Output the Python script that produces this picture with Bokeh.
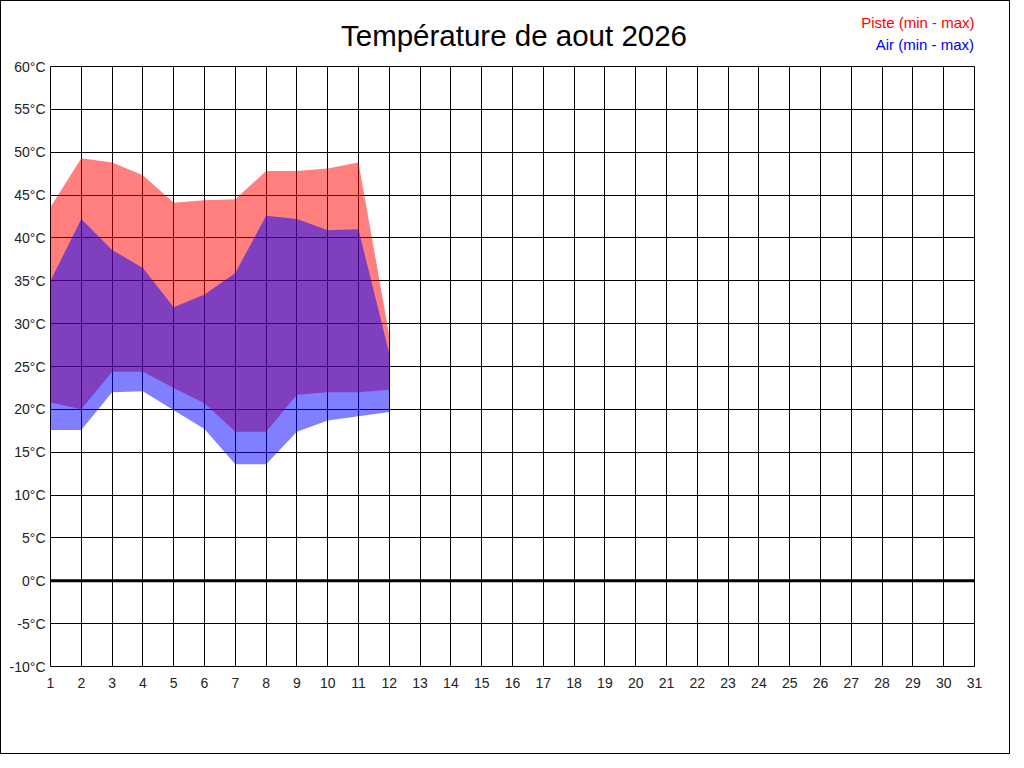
from bokeh.plotting import figure
from bokeh.layouts import column
from bokeh.models import Range1d, FixedTicker, Span, ColumnDataSource
from bokeh.core.properties import value
from bokeh.embed import file_html
from bokeh.resources import INLINE

# Data (°C), days of August 2026
days = [1, 2, 3, 4, 5, 6, 7, 8, 9, 10, 11, 12]
piste_max = [43.6, 49.3, 48.8, 47.3, 44.1, 44.4, 44.5, 47.8, 47.8, 48.1, 48.8, 28.6]
piste_min = [20.8, 20.0, 24.4, 24.4, 22.5, 20.7, 17.4, 17.4, 21.7, 22.0, 22.0, 22.3]
air_max = [35.0, 42.2, 38.6, 36.5, 31.9, 33.4, 35.9, 42.6, 42.2, 40.9, 41.0, 26.5]
air_min = [17.6, 17.6, 22.0, 22.1, 19.9, 17.7, 13.6, 13.6, 17.4, 18.7, 19.2, 19.7]

x_ticks = list(range(1, 32))
y_ticks = list(range(-10, 61, 5))
title_text = "Température de aout 2026"
legend_piste = "Piste (min - max)"
legend_air = "Air (min - max)"

FONT = "Liberation Sans"
W = 1008
HEADER_H = 55

# ---- header (title + legend); its frame is aligned with the chart frame (page x 50..974) ----
h = figure(width=W, height=HEADER_H, output_backend="svg", toolbar_location=None,
           x_range=Range1d(50, 974), y_range=Range1d(HEADER_H + 1, 1),
           min_border=0, min_border_left=0, min_border_right=0,
           min_border_top=0, min_border_bottom=0)
h.axis.visible = False
h.grid.visible = False
h.outline_line_color = None
h.background_fill_color = "white"
h.border_fill_color = "white"
h.text(x=[513.5], y=[35], text=[title_text], text_align="center", text_baseline="middle",
       text_font=value(FONT), text_font_size="29.5px", text_color="black")
h.text(x=[974], y=[22], text=[legend_piste], text_align="right", text_baseline="middle",
       text_font=value(FONT), text_font_size="15px", text_color="#FF0000")
h.text(x=[973.5], y=[44], text=[legend_air], text_align="right", text_baseline="middle",
       text_font=value(FONT), text_font_size="15px", text_color="#0000FF")

# ---- main chart ----
src = ColumnDataSource(dict(x=days, pmin=piste_min, pmax=piste_max, amin=air_min, amax=air_max))

p = figure(width=W, height=697, output_backend="svg", toolbar_location=None,
           x_range=Range1d(1, 31), y_range=Range1d(-10, 60),
           min_border_left=49, min_border_right=35, min_border_top=10, min_border_bottom=87)

p.varea(x="x", y1="pmin", y2="pmax", source=src, fill_color="#FF0000", fill_alpha=0.5)
p.varea(x="x", y1="amin", y2="amax", source=src, fill_color="#0000FF", fill_alpha=0.5)

p.add_layout(Span(location=0, dimension="width", line_color="black", line_width=3))

p.outline_line_color = "black"
p.outline_line_width = 1
p.background_fill_color = "white"
p.border_fill_color = "white"

p.xaxis.ticker = FixedTicker(ticks=x_ticks)
p.yaxis.ticker = FixedTicker(ticks=y_ticks)
p.yaxis.major_label_overrides = {t: f"{t}°C" for t in y_ticks}
for ax in (p.xaxis, p.yaxis):
    ax.axis_line_color = None
    ax.major_tick_line_color = None
    ax.minor_tick_line_color = None
    ax.major_tick_out = 0
    ax.major_tick_in = 0
    ax.minor_tick_out = 0
    ax.minor_tick_in = 0
    ax.major_label_text_font = FONT
    ax.major_label_text_font_size = "14px"
    ax.major_label_text_color = "#222222"
p.xaxis.major_label_standoff = 11
p.yaxis.major_label_standoff = 5

p.xgrid.ticker = FixedTicker(ticks=x_ticks)
p.ygrid.ticker = FixedTicker(ticks=y_ticks)
for g in (p.xgrid, p.ygrid):
    g.grid_line_color = "black"
    g.grid_line_width = 1
    g.grid_line_alpha = 1.0

layout = column(h, p, spacing=0)
layout.styles = {"border": "1px solid black", "background-color": "white"}

open("out.html", "w").write(file_html(layout, INLINE))
